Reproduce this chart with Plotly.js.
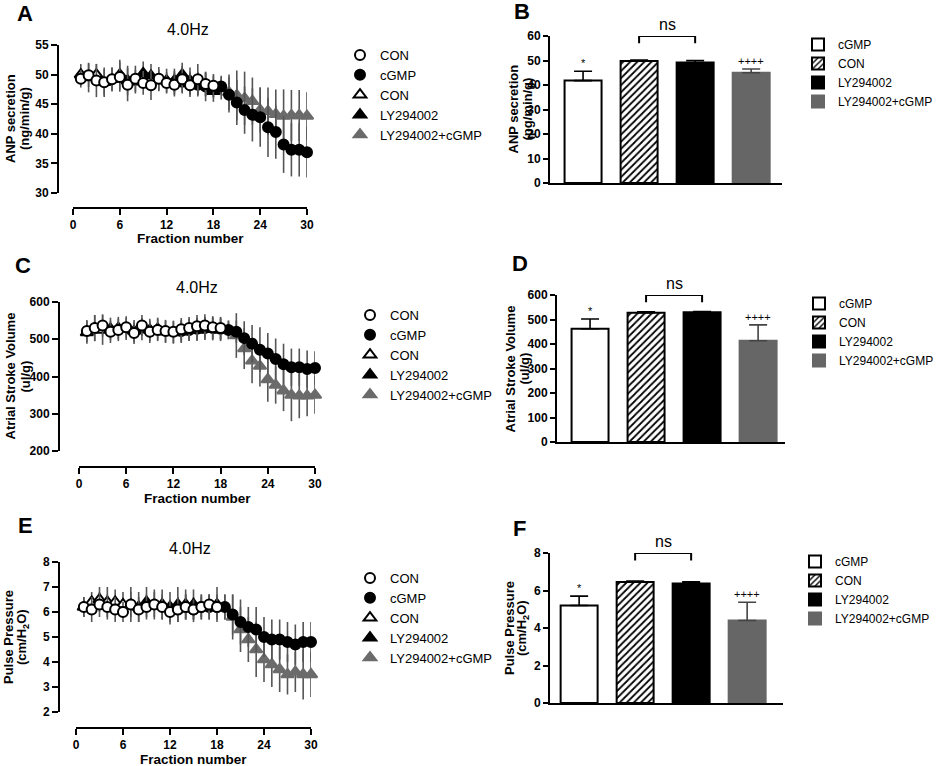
<!DOCTYPE html>
<html>
<head>
<meta charset="utf-8">
<script src="https://cdn.plot.ly/plotly-3.0.1.min.js"></script>
<style>
body { margin: 0; background: #fff; }
#chart { width: 941px; height: 766px; }
</style>
</head>
<body>
<div id="chart"></div>
<script>
// fraction numbers for each group in the time-course panels
let fracCon = [1, 2, 3, 4, 5, 6, 7, 8, 9, 10, 11, 12, 13, 14, 15, 16, 17, 18];
let fracEarly = [1, 2, 3, 4, 5, 6];
let fracLY = [7, 8, 9, 10, 11, 12, 13, 14, 15, 16, 17, 18];
let fracCgmp = [13, 14, 15, 16, 17, 18, 19, 20, 21, 22, 23, 24, 25, 26, 27, 28, 29, 30];
let fracLate = [19, 20, 21, 22, 23, 24, 25, 26, 27, 28, 29, 30];

// A - ANP secretion (ng/min/g)
let anpCon = [49.3, 49.9, 49.0, 48.7, 49.2, 49.6, 48.3, 49.3, 48.6, 48.2, 49.3, 48.6, 48.3, 49.2, 48.2, 49.2, 48.4, 48.1];
let anpConErr = [1.5, 2.0, 2.8, 2.2, 2.0, 2.5, 2.8, 2.2, 2.0, 2.5, 2.0, 1.8, 2.0, 2.2, 2.0, 2.6, 2.0, 2.0];
let anpCon2 = [50.0, 49.5, 50.0, 48.7, 49.2, 50.0];
let anpCon2Err = [1.8, 2.5, 1.8, 2.5, 2.0, 2.5];
let anpLY = [49.0, 48.8, 50.2, 49.8, 49.0, 49.0, 49.0, 50.0, 49.0, 48.5, 48.3, 47.2];
let anpLYErr = [2.5, 2.0, 2.0, 2.0, 1.8, 2.0, 2.0, 2.0, 2.2, 2.0, 2.0, 1.8];
let anpCgmp = [48.6, 48.8, 48.5, 48.3, 48.0, 48.0, 48.0, 46.6, 45.3, 44.0, 43.2, 42.8, 41.1, 40.3, 38.2, 37.3, 37.3, 36.9];
let anpCgmpErr = [2.0, 2.0, 2.0, 2.0, 2.5, 1.8, 1.5, 3.0, 3.8, 4.0, 4.5, 5.0, 5.0, 4.5, 4.8, 4.5, 4.5, 4.3];
let anpLYCgmp = [47.8, 47.0, 46.5, 46.0, 45.5, 44.0, 43.8, 43.3, 43.0, 43.1, 43.1, 43.0];
let anpLYCgmpErr = [2.0, 3.0, 4.2, 4.5, 4.0, 3.8, 4.0, 4.2, 4.5, 4.3, 4.3, 4.0];

// C - Atrial stroke volume (ul/g)
let asvCon = [522, 530, 537, 520, 525, 532, 517, 537, 520, 525, 522, 520, 527, 530, 535, 537, 532, 530];
let asvConErr = [30, 35, 30, 30, 30, 30, 30, 28, 30, 30, 30, 30, 30, 30, 30, 30, 30, 30];
let asvCon2 = [518, 530, 525, 528, 530, 528];
let asvCon2Err = [30, 35, 40, 30, 30, 30];
let asvLY = [522, 527, 525, 528, 520, 518, 520, 525, 525, 528, 527, 525];
let asvLYErr = [30, 30, 30, 30, 30, 30, 30, 30, 30, 30, 30, 30];
let asvCgmp = [522, 525, 528, 530, 530, 528, 525, 520, 503, 488, 472, 462, 447, 433, 425, 425, 420, 423];
let asvCgmpErr = [30, 30, 30, 30, 30, 30, 25, 30, 45, 50, 60, 55, 55, 55, 50, 50, 50, 45];
let asvLYCgmp = [525, 510, 475, 442, 428, 392, 377, 362, 350, 348, 348, 350];
let asvLYCgmpErr = [25, 60, 55, 60, 55, 60, 50, 55, 70, 60, 55, 50];

// E - Pulse pressure (cm/H2O)
let ppCon = [6.2, 6.1, 6.3, 6.2, 6.1, 6.0, 6.3, 6.1, 6.2, 6.3, 6.2, 6.0, 6.1, 6.2, 6.1, 6.2, 6.3, 6.2];
let ppConErr = [0.4, 0.5, 0.5, 0.5, 0.5, 0.4, 0.5, 0.5, 0.5, 0.5, 0.5, 0.5, 0.5, 0.5, 0.4, 0.4, 0.4, 0.4];
let ppCon2 = [6.2, 6.4, 6.5, 6.4, 6.4, 6.3];
let ppCon2Err = [0.4, 0.4, 0.5, 0.6, 0.5, 0.5];
let ppLY = [6.3, 6.2, 6.4, 6.3, 6.3, 6.2, 6.3, 6.3, 6.3, 6.2, 6.2, 6.3];
let ppLYErr = [0.7, 0.6, 0.6, 0.6, 0.6, 0.6, 0.7, 0.6, 0.6, 0.5, 0.5, 0.7];
let ppCgmp = [6.1, 6.2, 6.1, 6.2, 6.2, 6.2, 6.2, 5.9, 5.6, 5.4, 5.3, 5.0, 4.9, 4.9, 4.8, 4.7, 4.8, 4.8];
let ppCgmpErr = [0.5, 0.5, 0.5, 0.5, 0.5, 0.5, 0.5, 0.8, 0.9, 0.8, 0.9, 0.8, 0.8, 0.8, 0.8, 0.8, 0.8, 0.8];
let ppLYCgmp = [6.2, 5.8, 5.3, 4.9, 4.5, 4.1, 3.9, 3.7, 3.5, 3.6, 3.5, 3.5];
let ppLYCgmpErr = [0.5, 0.9, 0.9, 0.9, 1.1, 0.9, 0.9, 0.9, 0.8, 0.8, 1.0, 0.9];

// B, D, F - summary bars
let barGroups = ["cGMP", "CON", "LY294002", "LY294002+cGMP"];
let anpMean = [41.8, 49.8, 49.2, 45.0];
let anpErr = [3.8, 0.4, 0.8, 1.5];
let asvMean = [462, 528, 530, 413];
let asvErr = [40, 3, 2, 65];
let ppMean = [5.2, 6.45, 6.38, 4.4];
let ppErr = [0.5, 0.06, 0.08, 0.97];
let sigMarks = ["*", "", "", "++++"];

const W = 941, H = 766;
const FONT = "Liberation Sans, Arial, sans-serif";
function px(x) { return x / W; }
function py(y) { return 1 - y / H; }

let traces = [];
let annotations = [];
let layout = {
    width: W, height: H,
    margin: {l: 0, r: 0, t: 0, b: 0},
    paper_bgcolor: "#fff", plot_bgcolor: "rgba(0,0,0,0)",
    font: {family: FONT, color: "#000"},
    showlegend: true,
    barmode: "overlay",
    annotations: annotations
};

// first subplot uses plain x / y / legend names
function ids(n) {
    let s = n == 1 ? "" : String(n);
    return {xa: "x" + s, ya: "y" + s, xk: "xaxis" + s, yk: "yaxis" + s, lg: "legend" + s};
}

function axisBase() {
    return {
        showline: true, linewidth: 2, linecolor: "#000",
        ticks: "outside", ticklen: 6, tickwidth: 2, tickcolor: "#000",
        showgrid: false, zeroline: false, automargin: false, fixedrange: true,
        tickfont: {family: FONT, size: 12, color: "#000", weight: "bold"}
    };
}

// legend box kept inside the page so it does not push the margins
function legendAt(x, y, size) {
    return {
        x: px(x), y: py(y), xanchor: "left", yanchor: "top",
        bgcolor: "rgba(0,0,0,0)", font: {family: FONT, size: size, color: "#000"},
        traceorder: "normal"
    };
}

// free text placed in pixel coordinates of the figure
function label(text, x, y, size, bold, angle) {
    annotations.push({text: bold ? "<b>" + text + "</b>" : text, xref: "paper", yref: "paper",
        x: px(x), y: py(y), xanchor: "center", yanchor: "middle", showarrow: false,
        textangle: angle || 0, font: {family: FONT, size: size, color: "#000"}});
}

// two-line rotated axis title, one annotation per line
function yTitle(lines, xs, yMid) {
    lines.forEach(function(t, i) { label(t, xs[i], yMid, 13, true, -90); });
}

// time-course panel (A, C, E)
function linePanel(n, box, yRange, yTicks, titleLines, titleX, data, legendBox, letter, letterPos, hzPos, xTitleY) {
    let k = ids(n);
    let series = [
        // drawn back to front
        {name: "LY294002+cGMP", x: fracLate, y: data[4], e: data[9], sym: "triangle-up", fill: "#6b6b6b", line: "#6b6b6b", size: 11, rank: 5},
        {name: "cGMP", x: fracCgmp, y: data[3], e: data[8], sym: "circle", fill: "#000", line: "#000", size: 10, rank: 2},
        {name: "LY294002", x: fracLY, y: data[2], e: data[7], sym: "triangle-up", fill: "#000", line: "#000", size: 11, rank: 4},
        {name: "CON", x: fracEarly, y: data[1], e: data[6], sym: "triangle-up", fill: "#fff", line: "#000", size: 11, rank: 3},
        {name: "CON", x: fracCon, y: data[0], e: data[5], sym: "circle", fill: "#fff", line: "#000", size: 10, rank: 1}
    ];
    series.forEach(function(s) {
        traces.push({
            type: "scatter", mode: "markers", name: s.name,
            x: s.x, y: s.y, xaxis: k.xa, yaxis: k.ya,
            legend: k.lg, legendrank: s.rank,
            cliponaxis: false,
            marker: {symbol: s.sym, size: s.size, color: s.fill, line: {color: s.line, width: 2}},
            error_y: {type: "data", array: s.e, color: "#555", thickness: 1.6, width: 0}
        });
    });

    let xax = axisBase();
    Object.assign(xax, {
        domain: [px(box.x0), px(box.x1)], anchor: "free", position: py(box.xLine),
        range: [0, 30], tickvals: [0, 6, 12, 18, 24, 30]
    });
    let yax = axisBase();
    Object.assign(yax, {
        domain: [py(box.yBottom), py(box.yTop)], anchor: "free", position: px(box.yLine),
        range: yRange, tickvals: yTicks
    });
    layout[k.xk] = xax;
    layout[k.yk] = yax;
    layout[k.lg] = legendAt(legendBox.x, legendBox.y, 13);

    yTitle(titleLines, titleX, (box.yTop + box.yBottom) / 2);
    label("Fraction number", (box.x0 + box.x1) / 2, xTitleY, 13.5, true);
    label(letter, letterPos[0], letterPos[1], 22, true);
    label("4.0Hz", hzPos[0], hzPos[1], 16, false);
}

// summary bar panel (B, D, F)
function barPanel(n, box, yMax, yStep, titleLines, titleX, means, errs, legendBox, letter, letterPos) {
    let k = ids(n);
    let styles = [
        {fill: "#fff", line: "#000", pattern: ""},
        {fill: "#fff", line: "#000", pattern: "/"},
        {fill: "#000", line: "#000", pattern: ""},
        {fill: "#666", line: "#666", pattern: ""}
    ];
    barGroups.forEach(function(g, i) {
        traces.push({
            type: "bar", name: g, x: [i], y: [means[i]], width: 0.66,
            xaxis: k.xa, yaxis: k.ya, legend: k.lg,
            marker: {color: styles[i].fill, line: {color: styles[i].line, width: 2},
                pattern: {shape: styles[i].pattern, fgcolor: "#000", bgcolor: "#fff", size: 5, solidity: 0.35}},
            error_y: {type: "data", symmetric: false, array: [errs[i]], arrayminus: [0],
                color: i == 3 ? "#444" : "#000", thickness: 1.6, width: 9}
        });
        if (sigMarks[i]) {
            annotations.push({text: sigMarks[i], xref: k.xa, yref: k.ya, x: i, y: means[i] + errs[i],
                yanchor: "bottom", showarrow: false,
                font: {family: FONT, size: 11, color: "#000"}});
        }
    });

    // "ns" bracket between CON and LY294002
    traces.push({
        type: "scatter", mode: "lines", x: [1, 1, 2, 2],
        y: [yMax * 0.95, yMax, yMax, yMax * 0.95],
        xaxis: k.xa, yaxis: k.ya, showlegend: false, cliponaxis: false, hoverinfo: "skip",
        line: {color: "#000", width: 2}
    });
    annotations.push({text: "ns", xref: k.xa, yref: k.ya, x: 1.5, y: yMax, yanchor: "bottom",
        yshift: 1, showarrow: false, font: {family: FONT, size: 16, color: "#000"}});

    let ticks = [];
    for (let v = 0; v <= yMax + 1e-9; v += yStep) ticks.push(v);

    let xax = axisBase();
    Object.assign(xax, {
        domain: [px(box.x0), px(box.x1)], anchor: k.ya,
        range: [box.xMin, box.xMax], showticklabels: false, ticks: ""
    });
    let yax = axisBase();
    Object.assign(yax, {
        domain: [py(box.yBottom), py(box.yTop)], anchor: k.xa,
        range: [0, yMax], tickvals: ticks, ticklen: 5
    });
    layout[k.xk] = xax;
    layout[k.yk] = yax;
    layout[k.lg] = legendAt(legendBox.x, legendBox.y, 12);

    yTitle(titleLines, titleX, (box.yTop + box.yBottom) / 2);
    label(letter, letterPos[0], letterPos[1], 22, true);
}

// Panel A
linePanel(1, {x0: 73, x1: 307, xLine: 208, yTop: 45, yBottom: 193, yLine: 58},
    [30, 55], [30, 35, 40, 45, 50, 55], ["ANP secretion", "(ng/min/g)"], [10, 24],
    [anpCon, anpCon2, anpLY, anpCgmp, anpLYCgmp, anpConErr, anpCon2Err, anpLYErr, anpCgmpErr, anpLYCgmpErr],
    {x: 340, y: 40}, "A", [25, 14], [188, 30], 238);

// Panel B
barPanel(2, {x0: 550, x1: 782, yTop: 36, yBottom: 183, xMin: -0.59, xMax: 3.55},
    60, 10, ["ANP secretion", "(pg/min/g)"], [513, 527], anpMean, anpErr, {x: 798, y: 30}, "B", [522, 12]);

// Panel C
linePanel(3, {x0: 79, x1: 315, xLine: 467, yTop: 302, yBottom: 451, yLine: 59},
    [200, 600], [200, 300, 400, 500, 600], ["Atrial Stroke Volume", "(ul/g)"], [10, 25],
    [asvCon, asvCon2, asvLY, asvCgmp, asvLYCgmp, asvConErr, asvCon2Err, asvLYErr, asvCgmpErr, asvLYCgmpErr],
    {x: 350, y: 300}, "C", [23, 265], [197, 287], 498);

// Panel D
barPanel(4, {x0: 557, x1: 785, yTop: 295, yBottom: 442, xMin: -0.59, xMax: 3.48},
    600, 100, ["Atrial Stroke Volume", "(ul/g)"], [510, 524], asvMean, asvErr, {x: 799, y: 289}, "D", [520, 264]);

// Panel E
linePanel(5, {x0: 76, x1: 311, xLine: 728, yTop: 562, yBottom: 712, yLine: 59},
    [2, 8], [2, 3, 4, 5, 6, 7, 8], ["Pulse Pressure", "(cm/H<sub>2</sub>O)"], [8, 22],
    [ppCon, ppCon2, ppLY, ppCgmp, ppLYCgmp, ppConErr, ppCon2Err, ppLYErr, ppCgmpErr, ppLYCgmpErr],
    {x: 350, y: 563}, "E", [25, 525], [190, 548], 759);

// Panel F
barPanel(6, {x0: 550, x1: 783, yTop: 553, yBottom: 703, xMin: -0.52, xMax: 3.64},
    8, 2, ["Pulse Pressure", "(cm/H<sub>2</sub>O)"], [509, 522], ppMean, ppErr, {x: 795, y: 547}, "F", [519, 528]);

Plotly.newPlot("chart", traces, layout, {staticPlot: true});
</script>
</body>
</html>
